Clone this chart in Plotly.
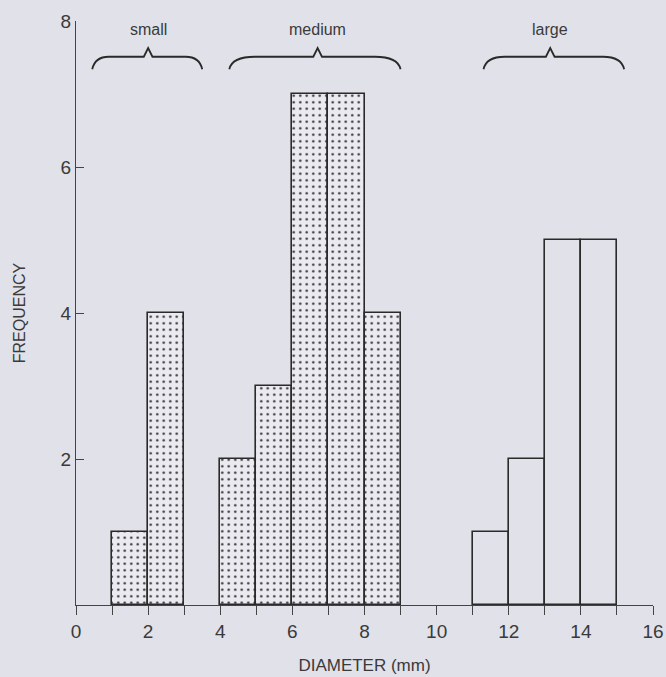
import plotly.graph_objects as go

# ---- data ----
bin_left = [1, 2, 4, 5, 6, 7, 8, 11, 12, 13, 14]
frequency = [1, 4, 2, 3, 7, 7, 4, 1, 2, 5, 5]
group = ["small", "small", "medium", "medium", "medium", "medium", "medium",
         "large", "large", "large", "large"]
bin_width = 1

group_names = ["small", "medium", "large"]
brace_start = [0.45, 4.25, 11.3]
brace_end = [3.5, 9.0, 15.2]
brace_tip = [2.0, 6.7, 13.15]

x_tick_vals = list(range(0, 17))
x_tick_text = [str(v) if v % 2 == 0 else "" for v in x_tick_vals]
y_tick_vals = [2, 4, 6, 8]

BG = "rgb(225,225,233)"
INK = "#2a2a2a"
TXT = "#3a3a3a"
FONT = "Liberation Sans"

fig = go.Figure()

for shaded in [True, False]:
    xs = [l + bin_width / 2 for l, g in zip(bin_left, group) if (g != "large") == shaded]
    ys = [f for f, g in zip(frequency, group) if (g != "large") == shaded]
    marker = dict(color=BG, line=dict(color=INK, width=1.6))
    if shaded:
        marker["pattern"] = dict(shape=".", size=6.5, solidity=0.12,
                                 fgcolor="#333333", bgcolor="rgb(234,234,240)",
                                 fillmode="replace")
    fig.add_trace(go.Bar(x=xs, y=ys, width=bin_width, marker=marker,
                         showlegend=False, hoverinfo="skip"))

# braces and group labels
y_low, y_mid, y_high = 7.34, 7.51, 7.63
for name, x0, x1, xt in zip(group_names, brace_start, brace_end, brace_tip):
    d = 0.45 * (x1 - x0) / 3
    path = (f"M {x0},{y_low} Q {x0+0.08},{y_mid} {x0+d},{y_mid} "
            f"L {xt-0.12},{y_mid} L {xt},{y_high} L {xt+0.12},{y_mid} "
            f"L {x1-d},{y_mid} Q {x1-0.08},{y_mid} {x1},{y_low}")
    fig.add_shape(type="path", path=path, xref="x", yref="y",
                  line=dict(color=INK, width=1.8))
    fig.add_annotation(x=xt, y=7.88, text=name, showarrow=False,
                       font=dict(family=FONT, size=16, color=TXT),
                       xref="x", yref="y")

fig.update_layout(
    width=666, height=677,
    margin=dict(l=76, r=13, t=21, b=72),
    paper_bgcolor=BG, plot_bgcolor=BG,
    bargap=0,
    font=dict(family=FONT, color=TXT),
    xaxis=dict(range=[0, 16], tickmode="array", tickvals=x_tick_vals,
               ticktext=x_tick_text, ticks="outside", ticklen=9,
               tickcolor="#444", tickwidth=1, showgrid=False, zeroline=False,
               showline=True, linecolor="#444", linewidth=1.2,
               automargin=False,
               tickfont=dict(size=19, color=TXT),
               title=dict(text="DIAMETER (mm)", font=dict(size=17, color=TXT),
                          standoff=18)),
    yaxis=dict(range=[0, 8], tickmode="array", tickvals=y_tick_vals,
               ticks="inside", ticklen=8, tickcolor="#444", tickwidth=1,
               showgrid=False, zeroline=False, showline=True,
               linecolor="#444", linewidth=1.2,
               automargin=False,
               tickfont=dict(size=19, color=TXT),
               title=dict(text="FREQUENCY", font=dict(size=16, color=TXT),
                          standoff=30)),
)

fig.write_html("out.html", config={"displayModeBar": False},
               post_script="document.body.style.margin='0';document.body.style.background='" + BG + "';")
